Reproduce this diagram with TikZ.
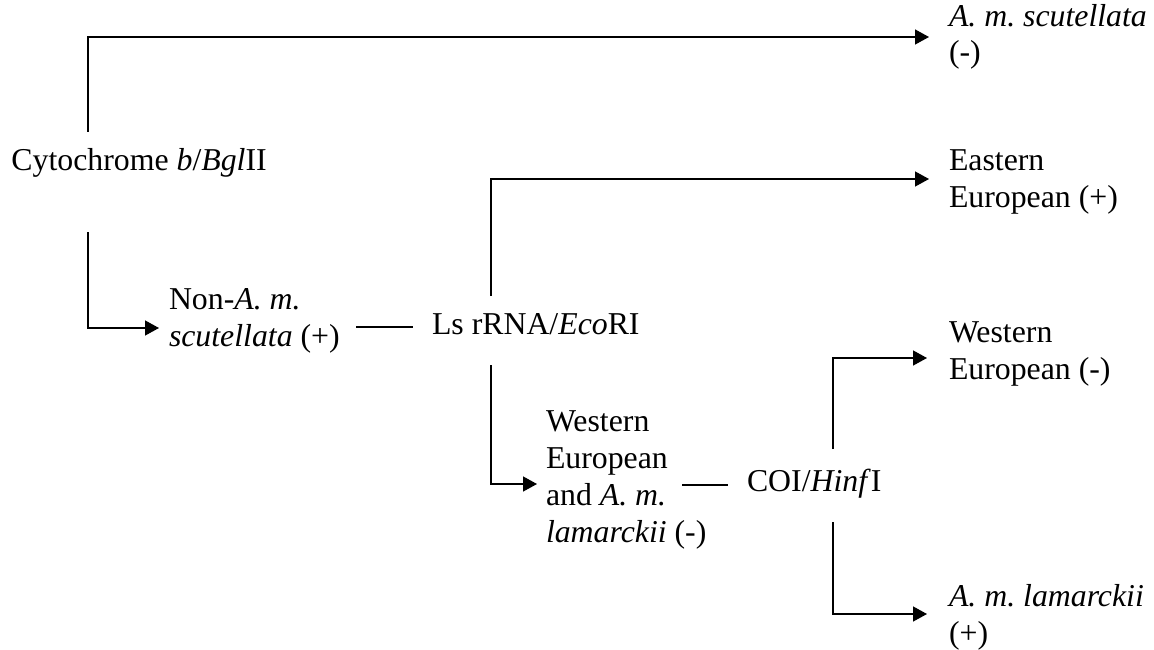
\documentclass[tikz,border=0pt]{standalone}
\usepackage{fontspec}
\setmainfont{Liberation Serif}
\usetikzlibrary{arrows.meta}
\frenchspacing
\begin{document}
\begin{tikzpicture}[x=1pt,y=-1pt,
  lbl/.style={inner sep=0pt,outer sep=0pt,anchor=base west,align=left,
    font=\fontsize{31.8}{36.7}\selectfont\frenchspacing},
  conn/.style={line width=1.4pt},
  arr/.style={conn,-{Triangle[length=14pt,width=15pt]}}]
\useasboundingbox (0,0) rectangle (1154,650);
% nodes (anchor = baseline of the last line)
\node[lbl] (cyt) at (11.5,171) {Cytochrome \textit{b}/\textit{Bgl}II};
\node[lbl] (scut) at (949,63) {\textit{A. m. scutellata}\\(-)};
\node[lbl] (nonsc) at (169,346) {Non-\textit{A. m.}\\\textit{scutellata} (+)};
\node[lbl] (ls) at (432,334) {Ls rRNA/\textit{Eco}RI};
\node[lbl] (east) at (949,207) {Eastern\\European (+)};
\node[lbl] (wel) at (546,542) {Western\\European\\and \textit{A. m.}\\\textit{lamarckii} (-)};
\node[lbl] (coi) at (747,491) {COI/\textit{Hinf}I};
\node[lbl] (wwe) at (949,379) {Western\\European (-)};
\node[lbl] (lam) at (949,643) {\textit{A. m. lamarckii}\\(+)};
% connector end points
\coordinate (cytUp) at (88,132);
\coordinate (cytDn) at (88,232);
\coordinate (toScut) at (929,37);
\coordinate (toNon) at (159,328);
\coordinate (nonR) at (356,327);
\coordinate (lsL) at (413,327);
\coordinate (lsUp) at (491,296);
\coordinate (lsDn) at (491,365);
\coordinate (toEast) at (929,179);
\coordinate (toWel) at (537,484);
\coordinate (welR) at (682,485);
\coordinate (coiL) at (728,485);
\coordinate (coiUp) at (833,449);
\coordinate (coiDn) at (833,522);
\coordinate (toWwe) at (927,358);
\coordinate (toLam) at (927,614);
% connectors
\draw[arr] (cytUp) |- (toScut);
\draw[arr] (cytDn) |- (toNon);
\draw[conn] (nonR) -- (lsL);
\draw[arr] (lsUp) |- (toEast);
\draw[arr] (lsDn) |- (toWel);
\draw[conn] (welR) -- (coiL);
\draw[arr] (coiUp) |- (toWwe);
\draw[arr] (coiDn) |- (toLam);
\end{tikzpicture}
\end{document}
